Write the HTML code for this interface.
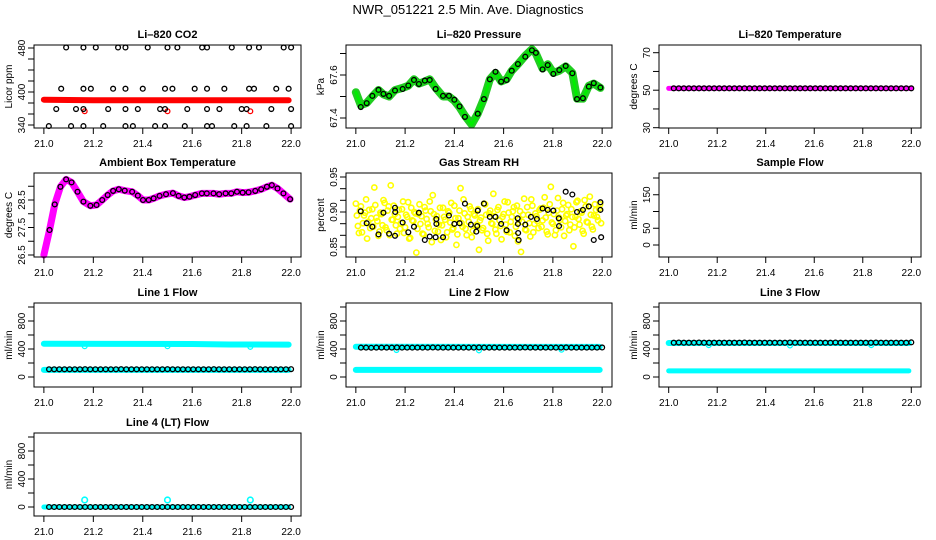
<!DOCTYPE html>
<html><head><meta charset="utf-8"><style>
html,body{margin:0;padding:0;background:#fff;}
svg{display:block;font-family:"Liberation Sans",Arial,sans-serif;}
</style></head><body>
<svg id="c" width="936" height="540" viewBox="0 0 936 540">
<text x="468" y="14" text-anchor="middle" font-size="13">NWR_051221  2.5 Min. Ave. Diagnostics</text>
</svg>
<script>
// ---- data ----
const xTicks = [21.0, 21.2, 21.4, 21.6, 21.8, 22.0];
const xTickLabels = ["21.0", "21.2", "21.4", "21.6", "21.8", "22.0"];
// 2.5-min timestamps (hours)
const aveTimes = [];
for (let k = 1; k <= 48; k++) aveTimes.push(21 + k / 48);

// CO2
const co2X = [21.09,21.16,21.21,21.30,21.33,21.42,21.50,21.54,21.64,21.66,21.76,21.83,21.87,21.97,22.0,
  21.07,21.16,21.19,21.28,21.33,21.40,21.49,21.52,21.61,21.66,21.73,21.83,21.85,21.94,21.99,
  21.05,21.13,21.16,21.26,21.33,21.38,21.47,21.49,21.58,21.66,21.71,21.80,21.82,21.92,22.0,
  21.02,21.11,21.16,21.24,21.33,21.36,21.45,21.49,21.57,21.66,21.68,21.77,21.82,21.90,22.0];
const co2Y = [481,481,481,481,481,481,481,481,481,481,481,481,481,481,481,
  406,406,406,406,406,406,406,406,406,406,406,406,406,406,406,
  369,369,369,369,369,369,369,369,369,369,369,369,369,369,369,
  338,338,338,338,338,338,338,338,338,338,338,338,338,338,338];
const co2BandX = [21.0, 21.2, 21.4, 21.6, 21.8, 21.99];
const co2BandY = [386, 385, 385, 385, 385, 385];
const co2RedX = [21.165, 21.50, 21.835];
const co2RedY = [365, 365, 365];

// Pressure
const presX = [21.020,21.044,21.067,21.092,21.112,21.135,21.159,21.190,21.213,21.236,21.256,21.280,21.300,21.324,21.354,21.378,21.400,21.421,21.443,21.495,21.520,21.544,21.567,21.590,21.612,21.633,21.658,21.688,21.715,21.731,21.758,21.779,21.802,21.826,21.852,21.879,21.898,21.922,21.946,21.966,21.993];
const presY = [67.451,67.469,67.503,67.531,67.512,67.503,67.528,67.535,67.551,67.577,67.558,67.574,67.577,67.535,67.503,67.503,67.485,67.454,67.405,67.420,67.488,67.580,67.615,67.569,67.577,67.620,67.651,67.685,67.715,67.703,67.626,67.646,67.605,67.623,67.642,67.608,67.488,67.492,67.546,67.562,67.542];
const presBandX = [21.0,21.02,21.044,21.067,21.092,21.112,21.135,21.159,21.190,21.213,21.236,21.256,21.280,21.300,21.324,21.354,21.378,21.400,21.421,21.443,21.47,21.495,21.520,21.544,21.567,21.590,21.612,21.633,21.658,21.688,21.715,21.731,21.758,21.779,21.802,21.826,21.852,21.879,21.898,21.922,21.946,21.966,21.993];
const presBandY = [67.52,67.46,67.47,67.50,67.53,67.51,67.50,67.53,67.54,67.55,67.58,67.56,67.57,67.58,67.54,67.50,67.50,67.48,67.45,67.41,67.37,67.42,67.49,67.58,67.61,67.57,67.58,67.62,67.65,67.69,67.72,67.70,67.63,67.65,67.61,67.62,67.64,67.61,67.49,67.49,67.55,67.56,67.54];

// Li-820 temperature
const lictY = [51,51,51,51,51,51,51,51,51,51,51,51,51,51,51,51,51,51,51,51,51,51,51,51,51,51,51,51,51,51,51,51,51,51,51,51,51,51,51,51,51,51,51,51,51,51,51,51];
const lictBandX = [21.0, 22.0];
const lictBandY = [51, 51];

// Ambient box temperature
const ambX = [21.023,21.044,21.067,21.090,21.112,21.136,21.160,21.188,21.213,21.236,21.258,21.280,21.303,21.327,21.357,21.380,21.401,21.424,21.444,21.468,21.494,21.522,21.545,21.568,21.589,21.612,21.639,21.659,21.686,21.709,21.735,21.758,21.781,21.804,21.828,21.855,21.879,21.902,21.922,21.945,21.969,21.996];
const ambY = [27.41,28.34,28.98,29.25,29.14,28.80,28.44,28.29,28.32,28.50,28.68,28.83,28.89,28.84,28.80,28.66,28.50,28.50,28.56,28.65,28.71,28.75,28.65,28.59,28.62,28.68,28.74,28.74,28.74,28.71,28.74,28.74,28.80,28.77,28.78,28.83,28.89,28.98,29.04,28.92,28.74,28.53];
const ambBandX = [21.0,21.023,21.044,21.067,21.090,21.112,21.136,21.160,21.188,21.213,21.236,21.258,21.280,21.303,21.327,21.357,21.380,21.401,21.424,21.444,21.468,21.494,21.522,21.545,21.568,21.589,21.612,21.639,21.659,21.686,21.709,21.735,21.758,21.781,21.804,21.828,21.855,21.879,21.902,21.922,21.945,21.969,21.996];
const ambBandY = [26.50,27.41,28.34,28.98,29.25,29.14,28.80,28.44,28.29,28.32,28.50,28.68,28.83,28.89,28.84,28.80,28.66,28.50,28.50,28.56,28.65,28.71,28.75,28.65,28.59,28.62,28.68,28.74,28.74,28.74,28.71,28.74,28.74,28.80,28.77,28.78,28.83,28.89,28.98,29.04,28.92,28.74,28.53];

// Gas stream RH
const rhX = [21.020,21.044,21.067,21.092,21.112,21.135,21.159,21.160,21.159,21.190,21.213,21.236,21.256,21.280,21.300,21.324,21.327,21.327,21.354,21.378,21.400,21.421,21.443,21.467,21.489,21.493,21.495,21.520,21.544,21.567,21.590,21.612,21.657,21.658,21.659,21.661,21.688,21.711,21.735,21.758,21.779,21.802,21.824,21.825,21.852,21.879,21.898,21.922,21.946,21.966,21.993,21.993,21.996];
const rhY = [0.901,0.884,0.879,0.868,0.899,0.869,0.866,0.900,0.906,0.885,0.871,0.879,0.899,0.860,0.865,0.864,0.890,0.883,0.864,0.895,0.883,0.884,0.912,0.882,0.872,0.880,0.902,0.912,0.893,0.893,0.883,0.874,0.891,0.883,0.870,0.860,0.882,0.893,0.890,0.905,0.903,0.902,0.891,0.880,0.929,0.925,0.900,0.903,0.908,0.860,0.914,0.903,0.864];
const rhYellowA = [0.912,0.880,0.902,0.871,0.895,0.918,0.886,0.877,0.904,0.935,0.892,0.866,0.899,0.881,0.913,0.874,0.908,0.938,0.889,0.897,0.869,0.903,0.884,0.915,0.878,0.893,0.862,0.906,0.887,0.898,
  0.876,0.911,0.894,0.868,0.902,0.883,0.915,0.857,0.897,0.889,0.872,0.906,0.881,0.893,0.864,0.901,0.885,0.875,0.909,0.853,0.891,0.934,0.879,0.898,0.867,0.886,0.904,0.873,0.895,0.882,
  0.846,0.892,0.877,0.911,0.869,0.898,0.884,0.926,0.875,0.903,0.888,0.861,0.897,0.882,0.914,0.871,0.893,0.907,0.879,0.858,0.901,0.886,0.919,0.874,0.896,0.865,0.909,0.883,0.894,0.877,
  0.905,0.888,0.921,0.872,0.899,0.936,0.883,0.867,0.902,0.892,0.878,0.913,0.887,0.897,0.874,0.904,0.851,0.893,0.916,0.882,0.899,0.869,0.908,0.885,0.922,0.879,0.895,0.903,0.888,0.911];
const rhYellowB = [0.895,0.870,0.908,0.884,0.899,0.862,0.903,0.891,0.879,0.910,0.887,0.872,0.897,0.917,0.878,0.902,0.867,0.889,0.909,0.881,0.893,0.876,0.904,0.870,0.896,0.914,0.863,0.888,0.900,0.842,
  0.897,0.883,0.869,0.907,0.890,0.878,0.901,0.924,0.873,0.894,0.882,0.860,0.906,0.889,0.871,0.899,0.913,0.877,0.891,0.868,0.902,0.884,0.918,0.876,0.893,0.908,0.864,0.897,0.880,0.904,
  0.888,0.874,0.912,0.896,0.859,0.902,0.883,0.894,0.869,0.907,0.880,0.893,0.915,0.872,0.899,0.886,0.901,0.866,0.909,0.889,0.843,0.896,0.875,0.907,0.884,0.918,0.871,0.898,0.887,0.903,
  0.879,0.906,0.892,0.868,0.911,0.885,0.897,0.874,0.920,0.889,0.904,0.866,0.895,0.910,0.882,0.893,0.878,0.914,0.890,0.901,0.873,0.917,0.886,0.908,0.896,0.875,0.911,0.893,0.905,0.884];

// Flows (mL/min)
const l1Black = [110,110,110,110,110,110,110,112,110,110,110,110,110,110,112,110,110,110,110,110,110,110,110,112,110,110,110,110,110,110,110,110,112,110,110,110,110,110,110,110,112,110,110,110,110,110,110,112];
const l1BandX = [21.0, 21.3, 21.6, 21.75, 21.99];
const l1BandHi = [475, 474, 472, 465, 462];
const l1BandLo = [102, 102, 102, 102, 102];
const dipX = [21.165, 21.50, 21.835];
const l1Dip = [440, 440, 430];
const l2Black = [420,420,418,420,420,420,420,422,420,420,420,420,420,420,422,420,420,420,420,420,420,420,420,422,420,420,420,420,420,420,420,420,422,420,420,420,420,420,420,420,422,420,420,420,420,420,420,422];
const l2BandX = [21.0, 21.5, 21.99];
const l2BandHi = [432, 430, 430];
const l2BandLo = [102, 102, 102];
const l2Dip = [385, 380, 390];
const l3Black = [490,492,490,490,490,492,490,490,490,490,490,490,490,490,492,490,490,490,490,490,490,490,490,492,490,490,490,490,490,490,490,490,492,490,490,490,490,490,490,490,492,490,490,490,490,490,490,495];
const l3BandX = [21.0, 21.5, 21.99];
const l3BandHi = [485, 485, 485];
const l3BandLo = [88, 88, 88];
const l3Dip = [455, 450, 455];
const l4Black = [0,0,0,0,0,0,0,0,0,0,0,0,0,0,0,0,0,0,0,0,0,0,0,0,0,0,0,0,0,0,0,0,0,0,0,0,0,0,0,0,0,0,0,0,0,0,0,0];
const l4BandX = [21.0, 21.99];
const l4BandY = [0, 0];
const l4Spike = [100, 100, 100];

// ---- drawing ----
const NS = "http://www.w3.org/2000/svg";
const svg = document.getElementById("c");
function mk(tag, attrs, parent) {
  const e = document.createElementNS(NS, tag);
  for (const k in attrs) e.setAttribute(k, attrs[k]);
  (parent || svg).appendChild(e);
  return e;
}
const cols = [{l:34, r:301}, {l:346, r:612}, {l:659, r:921}];
const rows = [{t:45, b:128}, {t:173, b:257}, {t:303, b:387}, {t:433, b:516}];

function panel(o) {
  const c = cols[o.col], r = rows[o.row];
  const g = mk("g", {});
  
  
  const w = c.r - c.l;
  const xs = v => c.l + w * 0.037 + (v - 21) * w / 1.08;
  const ys = v => r.t + o.y1p + (v - o.y1) * (o.y2p - o.y1p) / (o.y2 - o.y1);
  const t = mk("text", {x: (c.l + c.r) / 2, y: r.t - 7, "text-anchor": "middle", "font-size": 11, "font-weight": "bold"}, g);
  t.textContent = o.title;
  
  
  // series
  const sg = mk("g", {}, g);
  o.draw(sg, xs, ys);
  const box = mk("rect", {x: c.l, y: r.t, width: w, height: r.b - r.t, fill: "none", stroke: "#000", "stroke-width": 1}, g);
  
  
  // x axis
  const xa = mk("g", {}, g);
  
  
  mk("line", {x1: xs(21), x2: xs(22), y1: r.b, y2: r.b, stroke: "#000"}, xa);
  xTicks.forEach((v, i) => {
    mk("line", {x1: xs(v), x2: xs(v), y1: r.b, y2: r.b + 6, stroke: "#000"}, xa);
    const tl = mk("text", {x: xs(v), y: r.b + 19, "text-anchor": "middle", "font-size": 10}, xa);
    tl.textContent = xTickLabels[i];
    
    
  });
  // y axis
  const ya = mk("g", {}, g);
  
  
  const yt = o.yTicks;
  mk("line", {x1: c.l, x2: c.l, y1: ys(yt[0]), y2: ys(yt[yt.length - 1]), stroke: "#000"}, ya);
  yt.forEach(v => mk("line", {x1: c.l - 6, x2: c.l, y1: ys(v), y2: ys(v), stroke: "#000"}, ya));
  o.yLabels.forEach((lab, i) => {
    const yy = ys(o.yLabelVals[i]);
    const tl = mk("text", {x: c.l - 9, y: yy, "text-anchor": "middle", "font-size": 10, transform: `rotate(-90 ${c.l - 9} ${yy})`}, ya);
    tl.textContent = lab;
    
    
  });
  const cy = (r.t + r.b) / 2;
  const at = mk("text", {x: c.l - 22, y: cy, "text-anchor": "middle", "font-size": 10, transform: `rotate(-90 ${c.l - 22} ${cy})`}, ya);
  at.textContent = o.yTitle;
  
  
}
function pts(g, X, Y, xs, ys, color, name, rad, sw) {
  X.forEach((x, i) => {
    const p = mk("circle", {cx: xs(x), cy: ys(Y[i]), r: rad || 2.4, fill: "none", stroke: color, "stroke-width": sw || 1.3}, g);
    
    
  });
}
function band(g, X, Y, xs, ys, color, name, sw) {
  const p = mk("polyline", {points: X.map((x, i) => xs(x) + "," + ys(Y[i])).join(" "), fill: "none", stroke: color, "stroke-width": sw || 6, "stroke-linecap": "round", "stroke-linejoin": "round"}, g);
  
  
}
const CY = "#00ffff";
const flowTicks = [0, 200, 400, 600, 800, 1000];

panel({name: "co2-panel", title: "Li\u2013820 CO2", col: 0, row: 0, y1: 340, y1p: 80, y2: 480, y2p: 3,
  yTicks: [340,360,380,400,420,440,460,480], yLabels: ["340","400","480"], yLabelVals: [340,400,480], yTitle: "Licor ppm",
  draw: (g, xs, ys) => {
    band(g, co2BandX, co2BandY, xs, ys, "#ff0000", "co2-raw-band", 6);
    pts(g, co2RedX, co2RedY, xs, ys, "#ff0000", "co2-raw-point");
    pts(g, co2X, co2Y, xs, ys, "#000", "co2-average-point");
  }});
panel({name: "pressure-panel", title: "Li\u2013820 Pressure", col: 1, row: 0, y1: 67.4, y1p: 73, y2: 67.6, y2p: 30,
  yTicks: [67.4,67.5,67.6,67.7], yLabels: ["67.4","67.6"], yLabelVals: [67.4,67.6], yTitle: "kPa",
  draw: (g, xs, ys) => {
    band(g, presBandX, presBandY, xs, ys, "#22cc22", "pressure-raw-band", 8);
    band(g, presBandX, presBandY, xs, ys, "#00ee00", "pressure-raw-band-inner", 3);
    pts(g, presX, presY, xs, ys, "#000", "pressure-average-point");
  }});
panel({name: "licor-temperature-panel", title: "Li\u2013820 Temperature", col: 2, row: 0, y1: 30, y1p: 82.7, y2: 70, y2p: 7.7,
  yTicks: [30,40,50,60,70], yLabels: ["30","50","70"], yLabelVals: [30,50,70], yTitle: "degrees C",
  draw: (g, xs, ys) => {
    band(g, lictBandX, lictBandY, xs, ys, "#ff00ff", "licor-temp-raw-band", 5);
    pts(g, aveTimes, lictY, xs, ys, "#000", "licor-temp-average-point");
  }});
panel({name: "ambient-temperature-panel", title: "Ambient Box Temperature", col: 0, row: 1, y1: 26.5, y1p: 82, y2: 28.5, y2p: 27,
  yTicks: [26.5,27,27.5,28,28.5,29], yLabels: ["26.5","27.5","28.5"], yLabelVals: [26.5,27.5,28.5], yTitle: "degrees C",
  draw: (g, xs, ys) => {
    band(g, ambBandX, ambBandY, xs, ys, "#ff00ff", "ambient-raw-band", 7);
    pts(g, ambX, ambY, xs, ys, "#000", "ambient-average-point");
  }});
panel({name: "rh-panel", title: "Gas Stream RH", col: 1, row: 1, y1: 0.85, y1p: 74, y2: 0.95, y2p: 4,
  yTicks: [0.85,0.8667,0.8833,0.9,0.9167,0.9333,0.95], yLabels: ["0.85","0.90","0.95"], yLabelVals: [0.85,0.9,0.95], yTitle: "percent",
  draw: (g, xs, ys) => {
    const xa = rhYellowA.map((v, i) => 21 + i / 120);
    const xb = rhYellowB.map((v, i) => 21.004 + i / 120);
    pts(g, xa, rhYellowA, xs, ys, "#ffff00", "rh-raw-point", 2.6, 1.6);
    pts(g, xb, rhYellowB, xs, ys, "#ffff00", "rh-raw-point", 2.6, 1.6);
    pts(g, rhX, rhY, xs, ys, "#000", "rh-average-point");
  }});
panel({name: "sample-flow-panel", title: "Sample Flow", col: 2, row: 1, y1: 0, y1p: 72, y2: 200, y2p: 5,
  yTicks: [0,50,100,150,200], yLabels: ["0","50","150"], yLabelVals: [0,50,150], yTitle: "ml/min",
  draw: () => {}});
panel({name: "line1-flow-panel", title: "Line 1 Flow", col: 0, row: 2, y1: 0, y1p: 74, y2: 800, y2p: 18,
  yTicks: flowTicks, yLabels: ["0","400","800"], yLabelVals: [0,400,800], yTitle: "ml/min",
  draw: (g, xs, ys) => {
    band(g, l1BandX, l1BandHi, xs, ys, CY, "line1-raw-band-high", 6);
    band(g, l1BandX, l1BandLo, xs, ys, CY, "line1-raw-band-low", 6);
    pts(g, dipX, l1Dip, xs, ys, CY, "line1-raw-point");
    pts(g, aveTimes, l1Black, xs, ys, "#000", "line1-average-point");
  }});
panel({name: "line2-flow-panel", title: "Line 2 Flow", col: 1, row: 2, y1: 0, y1p: 74, y2: 800, y2p: 18,
  yTicks: flowTicks, yLabels: ["0","400","800"], yLabelVals: [0,400,800], yTitle: "ml/min",
  draw: (g, xs, ys) => {
    band(g, l2BandX, l2BandHi, xs, ys, CY, "line2-raw-band-high", 6);
    band(g, l2BandX, l2BandLo, xs, ys, CY, "line2-raw-band-low", 6);
    pts(g, dipX, l2Dip, xs, ys, CY, "line2-raw-point");
    pts(g, aveTimes, l2Black, xs, ys, "#000", "line2-average-point");
  }});
panel({name: "line3-flow-panel", title: "Line 3 Flow", col: 2, row: 2, y1: 0, y1p: 74, y2: 800, y2p: 18,
  yTicks: flowTicks, yLabels: ["0","400","800"], yLabelVals: [0,400,800], yTitle: "ml/min",
  draw: (g, xs, ys) => {
    band(g, l3BandX, l3BandHi, xs, ys, CY, "line3-raw-band-high", 6);
    band(g, l3BandX, l3BandLo, xs, ys, CY, "line3-raw-band-low", 5);
    pts(g, dipX, l3Dip, xs, ys, CY, "line3-raw-point");
    pts(g, aveTimes, l3Black, xs, ys, "#000", "line3-average-point");
  }});
panel({name: "line4-flow-panel", title: "Line 4 (LT) Flow", col: 0, row: 3, y1: 0, y1p: 74, y2: 800, y2p: 18,
  yTicks: flowTicks, yLabels: ["0","400","800"], yLabelVals: [0,400,800], yTitle: "ml/min",
  draw: (g, xs, ys) => {
    band(g, l4BandX, l4BandY, xs, ys, CY, "line4-raw-band", 5);
    pts(g, dipX, l4Spike, xs, ys, CY, "line4-raw-point", 2.8, 1.6);
    pts(g, aveTimes, l4Black, xs, ys, "#000", "line4-average-point");
  }});
</script>
</body></html>
